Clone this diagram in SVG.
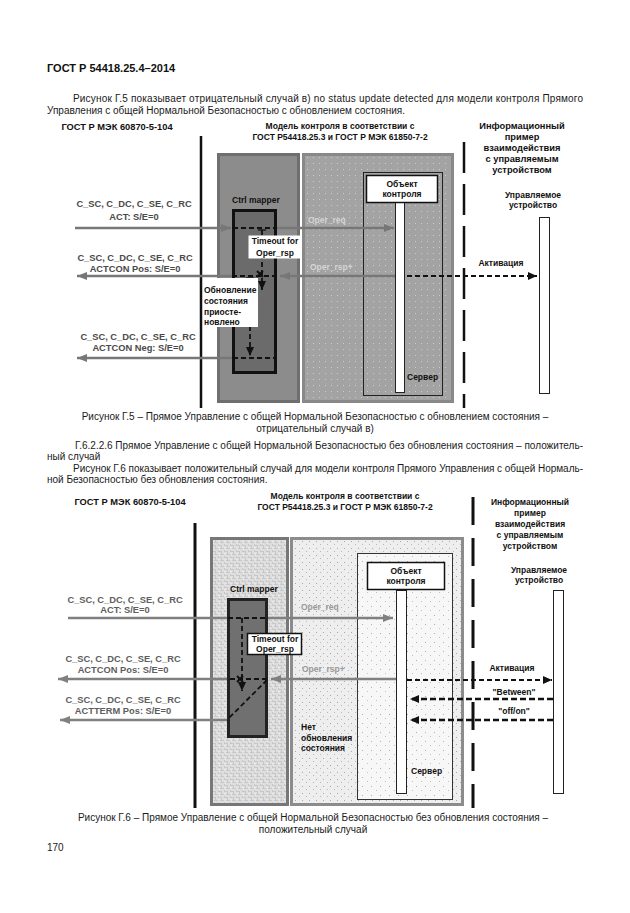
<svg xmlns="http://www.w3.org/2000/svg" width="630" height="913" viewBox="0 0 630 913">
<style>
.body{font-family:"Liberation Sans",Arial,sans-serif;font-size:10px;fill:#1a1a1a}
.hdr{font-family:"Liberation Sans",Arial,sans-serif;font-size:11px;font-weight:bold;fill:#111}
.b{font-family:"Liberation Sans",Arial,sans-serif;font-size:8.5px;font-weight:bold;fill:#111}
.bc{font-family:"Liberation Sans",Arial,sans-serif;font-size:8.5px;font-weight:bold;fill:#111;text-anchor:middle}
.hl{font-family:"Liberation Sans",Arial,sans-serif;font-size:9.3px;font-weight:bold;fill:#111;text-anchor:middle}
.lg1{font-family:"Liberation Sans",Arial,sans-serif;font-size:9.3px;font-weight:bold;fill:#4a4a4a;text-anchor:middle}
.lg2{font-family:"Liberation Sans",Arial,sans-serif;font-size:9.3px;font-weight:bold;fill:#5e5e5e;text-anchor:middle}
.op1{font-family:"Liberation Sans",Arial,sans-serif;font-size:8.5px;font-weight:bold;fill:#d4d4d4}
.op2{font-family:"Liberation Sans",Arial,sans-serif;font-size:8.5px;font-weight:bold;fill:#9a9a9a}
.gr1{stroke:#777;stroke-width:2.5;fill:none}
.gr2{stroke:#808080;stroke-width:2.5;fill:none}
.dsh{stroke:#111;stroke-width:1.8;stroke-dasharray:5 3;fill:none}
.dsh2{stroke:#111;stroke-width:2.6;stroke-dasharray:6 3;fill:none}
.solid{stroke:#111;fill:none}
</style>
<defs>
<marker id="ag1" viewBox="0 0 10 8" refX="10" refY="4" markerWidth="10" markerHeight="8" markerUnits="userSpaceOnUse" orient="auto"><path d="M0,0 L10,4 L0,8 z" fill="#777"/></marker>
<marker id="ag2" viewBox="0 0 10 8" refX="10" refY="4" markerWidth="10" markerHeight="8" markerUnits="userSpaceOnUse" orient="auto"><path d="M0,0 L10,4 L0,8 z" fill="#808080"/></marker>
<marker id="ab" viewBox="0 0 9 8" refX="9" refY="4" markerWidth="9" markerHeight="8" markerUnits="userSpaceOnUse" orient="auto"><path d="M0,0 L9,4 L0,8 z" fill="#111"/></marker>
<pattern id="pdots" width="6" height="6" patternUnits="userSpaceOnUse"><rect x="1" y="1" width="1" height="1" fill="#fff"/></pattern>
<pattern id="pmaze" width="6" height="6" patternUnits="userSpaceOnUse"><rect width="6" height="6" fill="#c8c8c8"/><path d="M0,1 H3 V4 H6 M4,0 V2 M1,3 V6" stroke="#f4f4f4" stroke-width="1" fill="none"/></pattern>
<pattern id="pspeck" width="7" height="7" patternUnits="userSpaceOnUse"><rect width="7" height="7" fill="#eeeeee"/><rect x="1" y="2" width="1" height="1" fill="#a8a8a8"/><rect x="5" y="5" width="1" height="1" fill="#b8b8b8"/></pattern>
<pattern id="pspeck2" width="9" height="9" patternUnits="userSpaceOnUse"><rect width="9" height="9" fill="#f7f7f7"/><rect x="2" y="3" width="1" height="1" fill="#b0b0b0"/><rect x="7" y="7" width="1" height="1" fill="#c0c0c0"/></pattern>
</defs>

<g id="page-text">
<text class="hdr" x="47" y="72">ГОСТ Р 54418.25.4–2014</text>
<text class="body" x="73" y="102" textLength="510" lengthAdjust="spacing">Рисунок Г.5 показывает отрицательный случай в) no status update detected для модели контроля Прямого</text>
<text class="body" x="47" y="114">Управления с общей Нормальной Безопасностью с обновлением состояния.</text>
<text class="body" x="315" y="420" text-anchor="middle">Рисунок Г.5 – Прямое Управление с общей Нормальной Безопасностью с обновлением состояния –</text>
<text class="body" x="315" y="432" text-anchor="middle">отрицательный случай в)</text>
<text class="body" x="75" y="449" textLength="508" lengthAdjust="spacing">Г.6.2.2.6 Прямое Управление с общей Нормальной Безопасностью без обновления состояния – положитель-</text>
<text class="body" x="47" y="460">ный случай</text>
<text class="body" x="73" y="472" textLength="510" lengthAdjust="spacing">Рисунок Г.6 показывает положительный случай для модели контроля Прямого Управления с общей Нормаль-</text>
<text class="body" x="47" y="483">ной Безопасностью без обновления состояния.</text>
<text class="body" x="313" y="821" text-anchor="middle">Рисунок Г.6 – Прямое Управление с общей Нормальной Безопасностью без обновления состояния –</text>
<text class="body" x="313" y="833" text-anchor="middle">положительный случай</text>
<text class="body" x="47" y="851">170</text>
</g>

<!-- ================= FIGURE G.5 ================= -->
<g id="f5-headings">
<text class="hl" x="117" y="130">ГОСТ Р МЭК 60870-5-104</text>
<text class="bc" x="340" y="129">Модель контроля в соответствии с</text>
<text class="bc" x="340" y="140">ГОСТ Р54418.25.3 и ГОСТ Р МЭК 61850-7-2</text>
<text class="hl" x="522" y="129">Информационный</text>
<text class="hl" x="522" y="140">пример</text>
<text class="hl" x="522" y="151">взаимодействия</text>
<text class="hl" x="522" y="162">с управляемым</text>
<text class="hl" x="522" y="173">устройством</text>
</g>
<g id="f5-boundaries">
<line x1="201" y1="136" x2="201" y2="408" stroke="#111" stroke-width="2.5"/>
<line x1="464" y1="142" x2="464" y2="408" stroke="#111" stroke-width="2.5" stroke-dasharray="31 11"/>
</g>
<g id="f5-model">
<rect x="303.5" y="154.5" width="149" height="247" fill="#a3a3a3" stroke="#898989" stroke-width="3"/>
<rect x="306" y="157" width="144" height="242" fill="url(#pdots)" opacity="0.45"/>
</g>
<g id="f5-ctrl-mapper">
<rect x="218.5" y="154.5" width="80" height="247" fill="#8c8c8c" stroke="#6f6f6f" stroke-width="3"/>
<text class="b" x="232" y="203">Ctrl mapper</text>
<rect x="233.5" y="210.5" width="42" height="162" fill="#6b6b6b" stroke="#111" stroke-width="3"/>
</g>
<g id="f5-server">
<rect x="363.5" y="172.5" width="79" height="223" fill="none" stroke="#222" stroke-width="1"/>
<rect x="395.5" y="202.5" width="9" height="190" fill="#fff" stroke="#222" stroke-width="1"/>
<text class="b" x="407" y="380">Сервер</text>
</g>
<g id="f5-object">
<rect x="366.5" y="175.5" width="71" height="27" fill="#fff" stroke="#111" stroke-width="1.5"/>
<text class="bc" x="402" y="187">Объект</text>
<text class="bc" x="402" y="197">контроля</text>
</g>
<g id="f5-device">
<text class="bc" x="533" y="198">Управляемое</text>
<text class="bc" x="533" y="208">устройство</text>
<rect x="539.5" y="217.5" width="10" height="176" fill="#fff" stroke="#222" stroke-width="1"/>
</g>

<g id="f5-connectors">
<path class="gr1" d="M75,228 H231" marker-end="url(#ag1)"/>
<path class="dsh" d="M233,228 H277"/>
<path class="gr1" d="M277,228 H394" marker-end="url(#ag1)"/>
<path class="solid" stroke-width="1.3" d="M258,230 H266"/>
<path class="dsh" d="M262,230 V290" marker-end="url(#ab)"/>
<path class="gr1" d="M395,276 H280" marker-end="url(#ag1)"/>
<path class="dsh" d="M277,276 H233"/>
<path class="gr1" d="M232,276 H77" marker-end="url(#ag1)"/>
<path class="solid" stroke-width="2" d="M257,271 L263,277 M263,271 L257,277"/>
<path class="solid" stroke-width="1.3" d="M246,278 H254"/>
<path class="dsh" d="M250,278 V356" marker-end="url(#ab)"/>
<path class="dsh" d="M233,358 H277"/>
<path class="gr1" d="M232,358 H77" marker-end="url(#ag1)"/>
<path class="dsh" stroke-width="2" d="M407,276 H537" marker-end="url(#ab)"/>
</g>

<g id="f5-timeout">
<rect x="248.5" y="235.5" width="53" height="23" fill="#fff"/>
<text class="bc" x="275" y="244">Timeout for</text>
<text class="bc" x="275" y="256">Oper_rsp</text>
</g>
<g id="f5-suspended">
<rect x="203" y="278" width="55" height="49" fill="#fff"/>
<text class="b" x="204" y="293">Обновление</text>
<text class="b" x="204" y="304">состояния</text>
<text class="b" x="204" y="315">приосте-</text>
<text class="b" x="204" y="325">новлено</text>
</g>
<g id="f5-labels">
<text class="lg1" x="134" y="207">C_SC, C_DC, C_SE, C_RC</text>
<text class="lg1" x="134" y="220">ACT: S/E=0</text>
<text class="lg1" x="135" y="261">C_SC, C_DC, C_SE, C_RC</text>
<text class="lg1" x="135" y="272">ACTCON Pos: S/E=0</text>
<text class="lg1" x="138" y="340">C_SC, C_DC, C_SE, C_RC</text>
<text class="lg1" x="138" y="351">ACTCON Neg: S/E=0</text>
<text class="op1" x="308" y="223">Oper_req</text>
<text class="op1" x="310" y="270">Oper_rsp+</text>
<text class="bc" x="501" y="266">Активация</text>
</g>

<!-- ================= FIGURE G.6 ================= -->
<g id="f6-headings">
<text class="hl" x="130" y="505">ГОСТ Р МЭК 60870-5-104</text>
<text class="bc" x="345" y="499">Модель контроля в соответствии с</text>
<text class="bc" x="345" y="510">ГОСТ Р54418.25.3 и ГОСТ Р МЭК 61850-7-2</text>
<text class="bc" x="530" y="505">Информационный</text>
<text class="bc" x="530" y="516">пример</text>
<text class="bc" x="530" y="527">взаимодействия</text>
<text class="bc" x="530" y="538">с управляемым</text>
<text class="bc" x="530" y="549">устройством</text>
</g>
<g id="f6-boundaries">
<line x1="195" y1="523" x2="195" y2="808" stroke="#111" stroke-width="3"/>
<line x1="473" y1="497" x2="473" y2="808" stroke="#111" stroke-width="3" stroke-dasharray="28 13"/>
</g>
<g id="f6-model">
<rect x="291.5" y="538.5" width="171" height="266" fill="url(#pspeck)" stroke="#8c8c8c" stroke-width="3"/>
</g>
<g id="f6-ctrl-mapper">
<rect x="211.5" y="538.5" width="76" height="266" fill="url(#pmaze)" stroke="#777" stroke-width="3"/>
<text class="b" x="230" y="592">Ctrl mapper</text>
<rect x="228.5" y="599.5" width="38" height="137" fill="#707070" stroke="#222" stroke-width="3"/>
</g>
<g id="f6-server">
<rect x="357.5" y="553.5" width="95" height="246" fill="url(#pspeck2)" stroke="#333" stroke-width="1"/>
<rect x="396.5" y="590.5" width="10" height="203" fill="#fff" stroke="#222" stroke-width="1"/>
<text class="b" x="411" y="774">Сервер</text>
</g>
<g id="f6-object">
<rect x="367.5" y="562.5" width="77" height="27" fill="#fff" stroke="#111" stroke-width="1.5"/>
<text class="bc" x="406" y="574">Объект</text>
<text class="bc" x="406" y="584">контроля</text>
</g>
<g id="f6-device">
<text class="bc" x="539" y="573">Управляемое</text>
<text class="bc" x="539" y="583">устройство</text>
<rect x="553.5" y="590.5" width="10" height="203" fill="#fff" stroke="#222" stroke-width="1"/>
</g>

<g id="f6-connectors">
<path class="gr2" d="M68,618 H227"/>
<path class="dsh" d="M228,618 H267"/>
<path class="gr2" d="M268,618 H393" marker-end="url(#ag2)"/>
<path class="dsh" d="M242,618 V691" marker-end="url(#ab)"/>
<path class="gr2" d="M396,679 H271" marker-end="url(#ag2)"/>
<path class="dsh" d="M267,679 H228"/>
<path class="gr2" d="M227,679 H58" marker-end="url(#ag2)"/>
<path class="solid" stroke-width="2" d="M237,676 L243,682 M243,676 L237,682"/>
<path class="dsh" d="M267,680 L228,719"/>
<path class="gr2" d="M227,720 H60" marker-end="url(#ag2)"/>
<path class="dsh" stroke-width="2" d="M407,680 H552" marker-end="url(#ab)"/>
<path class="dsh2" d="M553,699 H410" marker-end="url(#ab)"/>
<path class="dsh2" d="M553,720 H410" marker-end="url(#ab)"/>
</g>

<g id="f6-timeout">
<rect x="247.5" y="633.5" width="54" height="21" fill="#fff" stroke="#111" stroke-width="1.5"/>
<text class="bc" x="275" y="642">Timeout for</text>
<text class="bc" x="275" y="652">Oper_rsp</text>
</g>
<g id="f6-no-update">
<text class="b" x="301" y="730">Нет</text>
<text class="b" x="301" y="741">обновления</text>
<text class="b" x="301" y="751">состояния</text>
</g>
<g id="f6-labels">
<text class="lg2" x="125" y="603">C_SC, C_DC, C_SE, C_RC</text>
<text class="lg2" x="125" y="613">ACT: S/E=0</text>
<text class="lg2" x="123" y="662">C_SC, C_DC, C_SE, C_RC</text>
<text class="lg2" x="123" y="673">ACTCON Pos: S/E=0</text>
<text class="lg2" x="123" y="703">C_SC, C_DC, C_SE, C_RC</text>
<text class="lg2" x="123" y="714">ACTTERM Pos: S/E=0</text>
<text class="op2" x="301" y="610">Oper_req</text>
<text class="op2" x="302" y="672">Oper_rsp+</text>
<text class="bc" x="512" y="671">Активация</text>
<text class="bc" x="514" y="695">"Between"</text>
<text class="bc" x="514" y="714">"off/on"</text>
</g>
</svg>
